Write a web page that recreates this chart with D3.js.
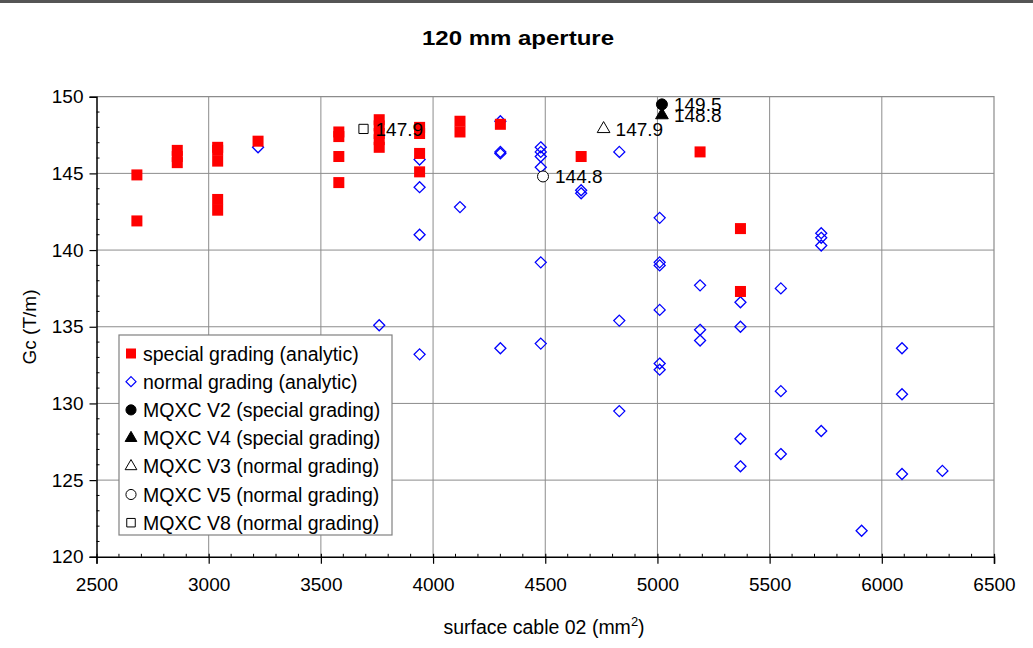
<!DOCTYPE html>
<html>
<head>
<meta charset="utf-8">
<script src="https://cdn.jsdelivr.net/npm/d3@7"></script>
<style>
  body { margin: 0; background: #fff; }
  svg { display: block; font-family: Arial, "Liberation Sans", sans-serif; }
</style>
</head>
<body>
<svg id="chart" width="1033" height="648"></svg>
<script>
// special grading (analytic): cable surface (mm2) and Gc (T/m)
const specialSurface = [2680, 2680, 2860, 2860, 2860, 3040, 3040, 3040, 3040, 3040, 3220,
  3580, 3580, 3580, 3580, 3760, 3760, 3760, 3760, 3760, 3940, 3940, 3940, 3940,
  4120, 4120, 4300, 4660, 5190, 5370, 5370];
const specialGc = [144.9, 141.9, 146.5, 146.1, 145.7, 146.7, 146.5, 145.8, 143.3, 142.6, 147.1,
  147.7, 147.4, 146.1, 144.4, 148.5, 148.1, 147.6, 147.2, 146.7, 148.0, 147.6, 146.3, 145.1,
  148.4, 147.7, 148.2, 146.1, 146.4, 141.4, 137.3];

// normal grading (analytic)
const normalSurface = [3220, 3760, 3940, 3940, 3940, 3940, 4120, 4300, 4300, 4300, 4300,
  4480, 4480, 4480, 4480, 4480, 4480, 4660, 4660, 4830, 4830, 4830,
  5010, 5010, 5010, 5010, 5010, 5010, 5190, 5190, 5190, 5370, 5370, 5370, 5370,
  5550, 5550, 5550, 5730, 5730, 5730, 5730, 5910, 6090, 6090, 6090, 6270];
const normalGc = [146.7, 135.1, 145.9, 144.1, 141.0, 133.2, 142.8, 148.4, 146.4, 146.3, 133.6,
  146.7, 146.4, 146.1, 145.4, 139.2, 133.9, 143.9, 143.7, 146.4, 135.4, 129.5,
  142.1, 139.2, 139.0, 136.1, 132.6, 132.2, 137.7, 134.8, 134.1, 136.6, 135.0, 127.7, 125.9,
  137.5, 130.8, 126.7, 141.1, 140.8, 140.3, 128.2, 121.7, 133.6, 130.6, 125.4, 125.6];

// MQXC designs
const mqxcNames = ['MQXC V2 (special grading)', 'MQXC V4 (special grading)',
  'MQXC V3 (normal grading)', 'MQXC V5 (normal grading)', 'MQXC V8 (normal grading)'];
const mqxcSymbols = ['circle', 'triangle', 'triangle', 'circle', 'square'];
const mqxcFilled = [true, true, false, false, false];
const mqxcSurface = [5020, 5020, 4760, 4490, 3690];
const mqxcGc = [149.5, 148.8, 147.9, 144.8, 147.9];

const xTicks = [2500, 3000, 3500, 4000, 4500, 5000, 5500, 6000, 6500];
const yTicks = [120, 125, 130, 135, 140, 145, 150];

const svg = d3.select('#chart');
const plot = { left: 96.5, right: 994, top: 96.7, bottom: 556.8 };

const x = d3.scaleLinear().domain([2500, 6500]).range([plot.left, plot.right]);
const y = d3.scaleLinear().domain([120, 150]).range([plot.bottom, plot.top]);

// top border of the frame
svg.append('line')
  .attr('x1', 0).attr('x2', 1033).attr('y1', 1.5).attr('y2', 1.5)
  .attr('stroke', '#555').attr('stroke-width', 3);

// title (wide bold lettering)
svg.append('text')
  .attr('transform', 'translate(518,45) scale(1.2,1)')
  .attr('text-anchor', 'middle')
  .attr('font-size', 20).attr('font-weight', 'bold')
  .text('120 mm aperture');

// grid
const grid = svg.append('g').attr('class', 'grid');
grid.selectAll('.gx').data(xTicks.slice(1, -1)).enter().append('line')
  .attr('x1', d => x(d)).attr('x2', d => x(d))
  .attr('y1', plot.top).attr('y2', plot.bottom)
  .attr('stroke', '#8c8c8c').attr('stroke-width', 1);
grid.selectAll('.gy').data(yTicks.slice(1, -1)).enter().append('line')
  .attr('x1', plot.left).attr('x2', plot.right)
  .attr('y1', d => y(d)).attr('y2', d => y(d))
  .attr('stroke', '#8c8c8c').attr('stroke-width', 1);

// plot frame (top and right in grey)
svg.append('path')
  .attr('d', `M${plot.left},${plot.top}H${plot.right}V${plot.bottom}`)
  .attr('fill', 'none').attr('stroke', '#8c8c8c').attr('stroke-width', 1.2);

// x axis: major ticks across, minor inside
const xAxis = svg.append('g').attr('transform', `translate(0,${plot.bottom})`)
  .call(d3.axisBottom(x).tickValues(xTicks).tickFormat(d3.format('d')).tickSize(7).tickPadding(14));
xAxis.select('.domain').attr('stroke', '#000').attr('stroke-width', 1.5);
xAxis.selectAll('.tick line').attr('y1', -3).attr('stroke-width', 1.2);
xAxis.selectAll('text').attr('font-size', 19).attr('font-family', 'Arial, "Liberation Sans", sans-serif');
svg.append('g').selectAll('line').data(d3.range(2600, 6500, 100).filter(v => v % 500 !== 0))
  .enter().append('line')
  .attr('x1', d => x(d)).attr('x2', d => x(d))
  .attr('y1', plot.bottom - 3).attr('y2', plot.bottom)
  .attr('stroke', '#000');

// y axis: major ticks outside, minor inside
const yAxis = svg.append('g').attr('transform', `translate(${plot.left},0)`)
  .call(d3.axisLeft(y).tickValues(yTicks).tickSize(7).tickPadding(6));
yAxis.select('.domain').attr('stroke', '#000').attr('stroke-width', 1.5);
yAxis.selectAll('.tick line').attr('stroke-width', 1.2);
yAxis.selectAll('text').attr('font-size', 19).attr('font-family', 'Arial, "Liberation Sans", sans-serif');
svg.append('g').selectAll('line').data(d3.range(121, 150, 1).filter(v => v % 5 !== 0))
  .enter().append('line')
  .attr('x1', plot.left).attr('x2', plot.left + 3)
  .attr('y1', d => y(d)).attr('y2', d => y(d))
  .attr('stroke', '#000');

// axis titles
const xTitle = svg.append('text')
  .attr('x', 544).attr('y', 634)
  .attr('text-anchor', 'middle')
  .attr('font-size', 19.5);
xTitle.append('tspan').text('surface cable 02 (mm');
xTitle.append('tspan').attr('dy', -8).attr('font-size', 13).text('2');
xTitle.append('tspan').attr('dy', 8).text(')');

svg.append('text')
  .attr('transform', 'translate(36,327) rotate(-90)')
  .attr('text-anchor', 'middle')
  .attr('font-size', 19)
  .text('Gc (T/m)');

// symbols
const symbolType = { circle: d3.symbolCircle, triangle: d3.symbolTriangle, square: d3.symbolSquare };
const symbolSize = { circle: 95, triangle: 70, square: 85 };

// normal grading diamonds
svg.append('g').selectAll('path')
  .data(normalSurface.map((s, i) => ({ s, g: normalGc[i] })))
  .enter().append('path')
  .attr('d', 'M0,-5.5L5.5,0L0,5.5L-5.5,0Z')
  .attr('transform', d => `translate(${x(d.s)},${y(d.g)})`)
  .attr('fill', 'none').attr('stroke', '#0000ff').attr('stroke-width', 1.3);

// special grading squares
svg.append('g').selectAll('rect')
  .data(specialSurface.map((s, i) => ({ s, g: specialGc[i] })))
  .enter().append('rect')
  .attr('x', d => x(d.s) - 5.5).attr('y', d => y(d.g) - 5.5)
  .attr('width', 11).attr('height', 11)
  .attr('fill', '#ff0000');

// MQXC points with value labels
const mqxc = mqxcSurface.map((s, i) => ({ s, g: mqxcGc[i], sym: mqxcSymbols[i], filled: mqxcFilled[i] }));
const mq = svg.append('g').selectAll('g').data(mqxc).enter().append('g')
  .attr('transform', d => `translate(${x(d.s)},${y(d.g)})`);
mq.append('path')
  .attr('d', d => d3.symbol(symbolType[d.sym], symbolSize[d.sym])())
  .attr('fill', d => d.filled ? '#000' : '#fff')
  .attr('stroke', '#000').attr('stroke-width', 1);
mq.append('text')
  .attr('x', 12).attr('y', 7)
  .attr('font-size', 19)
  .text(d => d3.format('.1f')(d.g));

// legend
const legendItems = [
  { name: 'special grading (analytic)', kind: 'special' },
  { name: 'normal grading (analytic)', kind: 'normal' }
].concat(mqxc.map((d, i) => ({ name: mqxcNames[i], kind: 'mqxc', sym: d.sym, filled: d.filled })));

const legend = svg.append('g').attr('transform', 'translate(119,335)');
legend.append('rect')
  .attr('width', 273).attr('height', 200)
  .attr('fill', '#fff').attr('stroke', '#808080').attr('stroke-width', 1.2);
const rows = legend.selectAll('g.row').data(legendItems).enter().append('g')
  .attr('transform', (d, i) => `translate(12,${18.5 + i * 28.2})`);
rows.each(function (d) {
  const g = d3.select(this);
  if (d.kind === 'special') {
    g.append('rect').attr('x', -5).attr('y', -5).attr('width', 10).attr('height', 10).attr('fill', '#ff0000');
  } else if (d.kind === 'normal') {
    g.append('path').attr('d', 'M0,-5L5,0L0,5L-5,0Z')
      .attr('fill', 'none').attr('stroke', '#0000ff').attr('stroke-width', 1.2);
  } else {
    g.append('path').attr('d', d3.symbol(symbolType[d.sym], symbolSize[d.sym] * 0.85)())
      .attr('fill', d.filled ? '#000' : '#fff').attr('stroke', '#000');
  }
});
rows.append('text')
  .attr('x', 12).attr('y', 7)
  .attr('font-size', 19.5)
  .text(d => d.name);
</script>
</body>
</html>
